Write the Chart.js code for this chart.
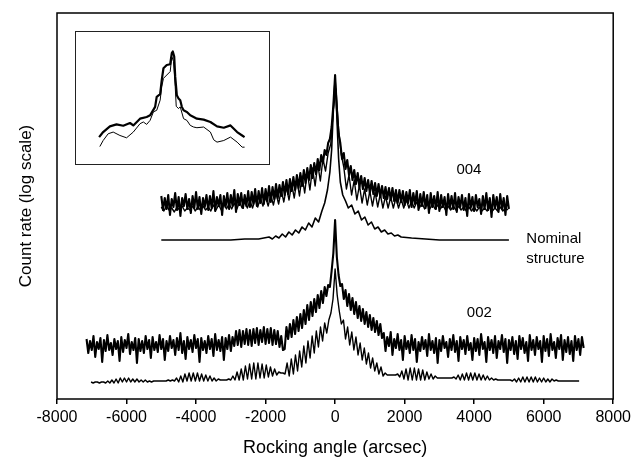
<!DOCTYPE html>
<html><head><meta charset="utf-8">
<script src="https://cdn.jsdelivr.net/npm/chart.js@4.4.1/dist/chart.umd.min.js"></script>
<style>
html,body{margin:0;padding:0;background:#fff;}
#wrap{position:relative;width:635px;height:464px;overflow:hidden;}
#main{position:absolute;left:0;top:0;}
#inset{position:absolute;left:75px;top:31px;}
</style></head><body>
<div id="wrap"><canvas id="main" width="635" height="464"></canvas><canvas id="inset" width="195" height="134"></canvas></div>
<script>
// ---- x tick labels (arcsec) ----
const xTicks = [-8000,-6000,-4000,-2000,0,2000,4000,6000,8000];

// ---- 004 reflection, measured (start -5000 arcsec, step 50) ; y = log count, arbitrary units ----
const m004Start = -5000, m004Step = 50;
const m004 = [
20.3,18.9,20.1,19.0,20.4,18.4,20.0,19.2,20.6,18.9,
20.2,18.3,20.1,19.3,20.5,19.0,20.0,18.6,20.3,19.1,
20.7,19.0,20.2,18.5,20.1,19.2,20.4,18.9,20.3,19.1,
20.8,18.8,20.2,19.3,20.4,18.4,20.3,19.2,20.6,19.0,
20.4,19.3,20.9,18.7,20.5,19.4,20.6,19.1,20.4,19.3,
20.8,19.2,20.7,19.5,21.0,19.3,20.8,19.6,21.1,19.5,
21.0,19.8,21.3,19.7,21.2,20.0,21.5,20.1,21.4,20.3,
21.7,20.4,21.9,20.5,22.0,20.8,22.2,20.9,22.4,21.1,
22.6,21.3,22.9,21.6,23.1,21.9,23.4,22.1,23.6,22.5,
24.0,22.9,24.4,23.6,24.9,24.4,25.6,26.0,27.2,29.4,
32.4,29.0,26.5,25.6,24.0,24.6,23.0,23.9,22.4,23.3,
21.9,22.9,21.5,22.6,21.2,22.3,21.0,22.1,20.8,21.9,
20.6,21.8,20.5,21.6,20.3,21.5,20.2,21.3,20.1,21.2,
20.0,21.1,19.9,21.1,19.8,20.9,19.6,20.9,19.7,20.8,
19.4,20.7,19.6,20.9,19.2,20.6,19.5,20.8,18.9,20.5,
19.3,20.7,19.1,20.4,18.6,20.6,19.2,20.3,19.0,20.7,
18.8,20.4,19.2,20.2,18.4,20.5,19.1,20.3,19.0,20.6,
18.7,20.2,19.2,20.4,18.9,20.1,18.3,20.5,19.1,20.2,
18.8,20.4,19.2,20.0,18.5,20.3,19.0,20.6,18.9,20.1,
18.2,20.4,19.1,20.2,18.7,20.5,19.0,20.1,18.4,20.3,
19.0];

// ---- 004 reflection, simulated (start -5000, step 75) ----
const s004Start = -5000, s004Step = 75;
const s004 = [
19.2,18.8,19.3,18.9,19.1,18.7,19.2,18.9,19.3,18.8,
19.1,18.9,19.3,18.8,19.2,18.9,19.3,18.9,19.2,18.8,
19.4,18.9,19.4,18.9,19.5,19.0,19.5,19.0,19.6,19.0,
19.7,19.1,19.7,19.1,19.8,19.1,20.0,19.2,20.1,19.3,
20.2,19.3,20.4,19.4,20.6,19.5,20.9,19.7,21.2,19.9,
21.5,20.1,21.9,20.3,22.3,20.6,22.7,20.9,23.1,21.3,
23.5,21.8,24.0,22.8,24.6,25.5,29.0,31.0,27.0,24.5,
23.2,21.0,22.4,20.4,21.9,19.9,21.4,19.6,21.0,19.4,
20.8,19.3,20.7,19.2,20.5,19.1,20.3,19.1,20.2,19.1,
20.1,19.1,20.0,19.1,19.9,19.1,19.8,19.1,19.7,19.1,
19.6,19.0,19.5,19.0,19.5,19.0,19.4,19.0,19.4,18.9,
19.3,18.9,19.3,18.9,19.3,18.9,19.2,18.8,19.2,18.8,
19.2,18.8,19.2,18.8,19.1,18.8,19.2,18.8,19.1,18.8,
19.2,18.8,19.1,18.9];

// ---- nominal structure (004) ----
const nomX = [-5000,-4000,-3000,-2600,-2200,
-1900,-1805,-1710,-1615,-1520,-1425,-1330,-1235,-1140,-1045,-950,-855,-760,-665,-570,-475,-380,
-300,-220,-150,-100,-60,-30,0,30,60,100,150,220,300,
380,475,570,665,760,855,950,1045,1140,1235,1330,1425,1520,1615,1710,1805,1900,
2200,2600,3000,4000,5000];
const nomY = [15.9,15.9,15.9,16.0,16.0,
16.2,16.0,16.3,16.1,16.5,16.2,16.7,16.4,16.9,16.6,17.2,16.9,17.6,17.2,18.1,17.7,18.8,
19.6,20.9,22.7,24.9,28.1,30.4,31.9,30.2,27.4,24.1,21.7,20.4,19.8,
19.1,19.4,18.5,18.8,17.9,18.2,17.4,17.7,17.0,17.2,16.7,16.9,16.5,16.6,16.3,16.4,16.2,
16.1,16.0,15.9,15.9,15.9];

// ---- 002 reflection, measured (start -7150, step 50) ----
const m002Start = -7150, m002Step = 50;
const m002 = [
6.0,4.6,5.8,4.9,6.3,4.2,5.7,5.0,6.1,3.7,
5.9,4.8,6.4,4.9,5.6,4.4,6.0,5.0,5.8,3.8,
6.2,4.7,5.9,5.1,6.5,4.5,5.7,4.9,6.1,3.6,
6.0,4.8,5.8,4.6,6.3,5.0,5.9,4.1,6.2,4.9,
5.7,4.7,6.4,5.0,6.0,3.9,5.8,4.8,6.3,5.1,
5.9,4.4,6.1,4.9,6.6,4.6,5.8,4.0,6.2,5.0,
5.9,4.7,6.4,5.1,6.0,3.7,6.1,4.9,5.8,4.6,
6.3,5.0,6.0,4.3,6.5,4.9,5.9,4.8,6.2,3.9,
6.1,5.0,6.4,4.8,6.2,5.3,6.8,5.4,6.9,5.2,
6.8,5.5,7.0,5.4,6.9,5.3,7.0,5.6,7.1,5.4,
6.9,5.7,7.2,5.5,7.0,5.6,7.1,5.4,6.9,5.5,
6.8,5.2,6.3,4.9,5.0,7.2,6.0,7.5,6.2,7.9,
6.5,8.2,6.8,8.5,7.1,8.9,7.5,9.4,7.9,9.7,
8.3,10.0,8.7,10.4,9.1,10.8,9.6,11.2,10.3,11.4,
11.2,12.8,14.6,17.9,14.2,12.4,11.3,11.5,10.0,10.9,
9.3,10.5,8.9,10.1,8.5,9.7,8.1,9.3,7.8,9.0,
7.5,8.7,7.2,8.4,6.9,8.1,6.7,7.8,6.4,7.5,
6.1,6.6,4.8,6.2,5.3,6.7,4.4,6.0,5.1,6.5,
4.9,5.9,3.9,6.3,5.0,5.8,4.6,6.4,4.9,6.0,
3.7,5.7,4.8,6.2,5.0,5.9,4.3,6.5,4.9,5.8,
4.6,6.1,3.6,5.9,4.8,6.3,5.1,5.7,4.2,6.0,
4.9,6.4,4.7,5.8,3.8,6.2,5.0,5.9,4.5,6.3,
4.9,5.6,3.9,6.1,4.8,6.0,4.4,6.5,5.0,5.7,
3.7,6.2,4.9,5.9,4.6,6.3,4.1,5.8,5.0,6.4,
4.7,6.0,3.6,5.9,4.9,6.2,4.5,5.8,4.0,6.3,
5.0,6.1,4.6,5.7,3.8,6.4,4.9,5.9,4.4,6.2,
5.0,5.8,3.7,6.3,4.8,6.0,4.3,6.5,4.9,5.7,
4.1,6.1,5.0,6.4,3.9,5.9,4.7,6.2,4.5,5.8,
3.8,6.3,4.9,6.0,4.4,6.2,5.1];

// ---- 002 reflection, simulated (start -7020, step 60) ----
const s002Start = -7020, s002Step = 60;
const s002 = [
1.7,1.6,1.7,1.7,1.6,1.7,1.7,1.6,1.8,1.6,
1.9,1.6,2.0,1.6,2.1,1.7,2.1,1.7,2.1,1.7,
2.0,1.7,2.0,1.7,1.9,1.7,1.9,1.7,1.8,1.7,
1.8,1.8,1.8,1.8,1.8,1.8,1.8,1.9,1.8,1.9,
1.8,2.1,1.7,2.3,1.7,2.5,1.8,2.6,1.8,2.6,
1.8,2.6,1.8,2.5,1.8,2.4,1.8,2.3,1.8,2.1,
1.8,2.0,1.9,1.9,1.9,1.9,2.0,1.9,2.3,1.9,
2.7,1.9,3.0,1.9,3.3,2.0,3.5,2.0,3.6,2.0,
3.6,2.1,3.5,2.1,3.4,2.2,3.2,2.3,3.0,2.4,
2.7,2.6,2.6,2.5,3.6,2.3,4.0,2.5,4.4,2.8,
4.8,3.2,5.3,3.6,5.8,4.1,6.3,4.6,6.8,5.2,
7.2,5.8,7.6,6.6,7.9,8.6,10.0,13.0,10.4,8.8,
7.5,7.9,6.0,7.2,5.4,6.7,4.9,6.2,4.4,5.6,
3.9,5.1,3.5,4.6,3.1,4.1,2.8,3.6,2.5,3.2,
2.3,2.6,2.4,2.4,2.4,2.4,2.4,2.5,2.2,2.8,
2.0,3.0,1.9,3.1,1.9,3.1,1.9,3.0,1.9,2.9,
1.9,2.7,2.0,2.5,2.0,2.3,2.1,2.1,2.1,2.1,
2.1,2.1,2.1,2.1,2.2,2.0,2.4,1.9,2.5,1.9,
2.6,1.9,2.6,1.9,2.6,1.9,2.5,1.9,2.4,1.9,
2.3,1.9,2.1,1.9,2.0,1.9,1.9,1.9,1.9,1.9,
1.9,1.9,1.8,2.0,1.7,2.1,1.7,2.2,1.7,2.2,
1.7,2.2,1.7,2.2,1.7,2.1,1.7,2.1,1.7,2.0,
1.7,2.0,1.8,1.9,1.8,1.8,1.8,1.8,1.8,1.8,
1.8,1.8,1.8,1.8,1.8];

// ---- inset (peak detail, relative units) ----
const insetThickX = [-73,-69,-62.3,-55.7,-49,-42.3,-39,-32.3,-25.7,-22.3,-17.3,-15.7,-12.3,-10.7,-9,-5.7,-2.3,-0.7,0.3,1.7,2.7,4.3,6,7.7,9.3,11,14.3,17.7,21,24.3,31,37.7,44.3,51,57.7,64.3,69.3,71.7];
const insetThickY = [27.7,32.7,38.3,40.3,39,41.7,39.3,46,47.7,49.3,57.7,67.7,70.3,84.3,96,99.3,100,111,112.7,107.7,87.7,69.3,66,64.3,57.7,54.3,52.7,49.3,47.7,46,45,42.7,38.3,37,39.3,32.7,29.3,27.7];
const insetThinX = [-72.3,-69,-64,-59,-52.3,-45.7,-39,-32.3,-29,-25.7,-22.3,-19,-15.7,-12.3,-10.7,-9,-5.7,-2.3,-0.7,1,2.7,3.7,6,7.7,11,14.3,17.7,21,24.3,31,37.7,41,44.3,51,57.7,64.3,69.3,71.7];
const insetThinY = [18.3,24.3,31,32.7,29.3,27,32.7,41,42.7,40.3,44.3,52.7,54.3,64.3,77.7,86,89.3,92.7,107.7,102.7,77.7,58.3,56,57.7,46,44.3,39.3,37.7,37,37.7,32.7,25,22.7,24.3,27.7,22.7,17.7,17.7];

// ---- curve labels (data coordinates) ----
const curveLabels = [
  {text:'004', x:3850, y:22.9, align:'center'},
  {text:'002', x:4150, y:8.6, align:'center'},
  {text:'Nominal', x:5500, y:16.05, align:'left'},
  {text:'structure', x:5500, y:14.05, align:'left'}
];

const FONT = "'Liberation Sans', Arial, Helvetica, sans-serif";
Chart.defaults.font.family = FONT;
Chart.defaults.color = '#000';

function grid(start, step, n){ return Array.from({length:n}, (_, i) => start + i*step); }
function pairs(xs, ys){ return ys.map((y, i) => ({x: xs[i], y})); }

function line(data, w){
  return {data, borderColor:'#000', borderWidth:w, pointRadius:0, tension:0, fill:false, borderJoinStyle:'round'};
}

const framePlugin = {
  id:'frameLabels',
  afterDraw(chart){
    const {ctx, chartArea:a, scales:{x, y}} = chart;
    ctx.save();
    ctx.strokeStyle = '#000'; ctx.lineWidth = 1.5;
    ctx.strokeRect(a.left, a.top, a.right - a.left, a.bottom - a.top);
    ctx.fillStyle = '#000';
    ctx.font = '15px ' + FONT;
    ctx.textBaseline = 'middle';
    for (const l of curveLabels){
      ctx.textAlign = l.align;
      ctx.fillText(l.text, x.getPixelForValue(l.x), y.getPixelForValue(l.y));
    }
    ctx.restore();
  }
};

new Chart(document.getElementById('main'), {
  type:'line',
  data:{datasets:[
    line(pairs(grid(m004Start, m004Step, m004.length), m004), 2.1),
    line(pairs(grid(s004Start, s004Step, s004.length), s004), 1.4),
    line(pairs(nomX, nomY), 1.6),
    line(pairs(grid(m002Start, m002Step, m002.length), m002), 2.1),
    line(pairs(grid(s002Start, s002Step, s002.length), s002), 1.4)
  ]},
  options:{
    responsive:false, animation:false, devicePixelRatio:1,
    layout:{padding:{top:13, right:19, left:0, bottom:0}},
    plugins:{legend:{display:false}, tooltip:{enabled:false}},
    scales:{
      x:{type:'linear', min:xTicks[0], max:xTicks[xTicks.length-1],
        afterFit(s){ s.height = 65; },
        afterBuildTicks(s){ s.ticks = xTicks.map(v => ({value:v})); },
        border:{display:false},
        grid:{display:true, drawOnChartArea:false, drawTicks:true, tickLength:5, color:'#000', lineWidth:1.5},
        ticks:{padding:4, color:'#000', font:{size:16}, maxRotation:0, autoSkip:false, callback:v => String(v)},
        title:{display:true, text:'Rocking angle (arcsec)', color:'#000', font:{size:18}, padding:{top:0, bottom:5}}
      },
      y:{type:'linear', min:0, max:38.6,
        afterFit(s){ s.width = 57; },
        border:{display:false},
        grid:{display:false},
        ticks:{display:false},
        title:{display:true, text:'Count rate (log scale)', color:'#000', font:{size:17}, padding:{top:16, bottom:0}}
      }
    }
  },
  plugins:[framePlugin]
});

const insetFrame = {
  id:'insetFrame',
  afterDraw(chart){
    const ctx = chart.ctx;
    ctx.save(); ctx.strokeStyle = '#222'; ctx.lineWidth = 1;
    ctx.strokeRect(0.5, 0.5, chart.width - 1, chart.height - 1);
    ctx.restore();
  }
};

new Chart(document.getElementById('inset'), {
  type:'line',
  data:{datasets:[
    line(pairs(insetThickX, insetThickY), 2.2),
    line(pairs(insetThinX, insetThinY), 1)
  ]},
  options:{
    responsive:false, animation:false, devicePixelRatio:1,
    layout:{padding:0},
    plugins:{legend:{display:false}, tooltip:{enabled:false}},
    scales:{
      x:{type:'linear', display:false, min:-97, max:97},
      y:{type:'linear', display:false, min:0, max:133}
    }
  },
  plugins:[insetFrame]
});
</script>
</body></html>
